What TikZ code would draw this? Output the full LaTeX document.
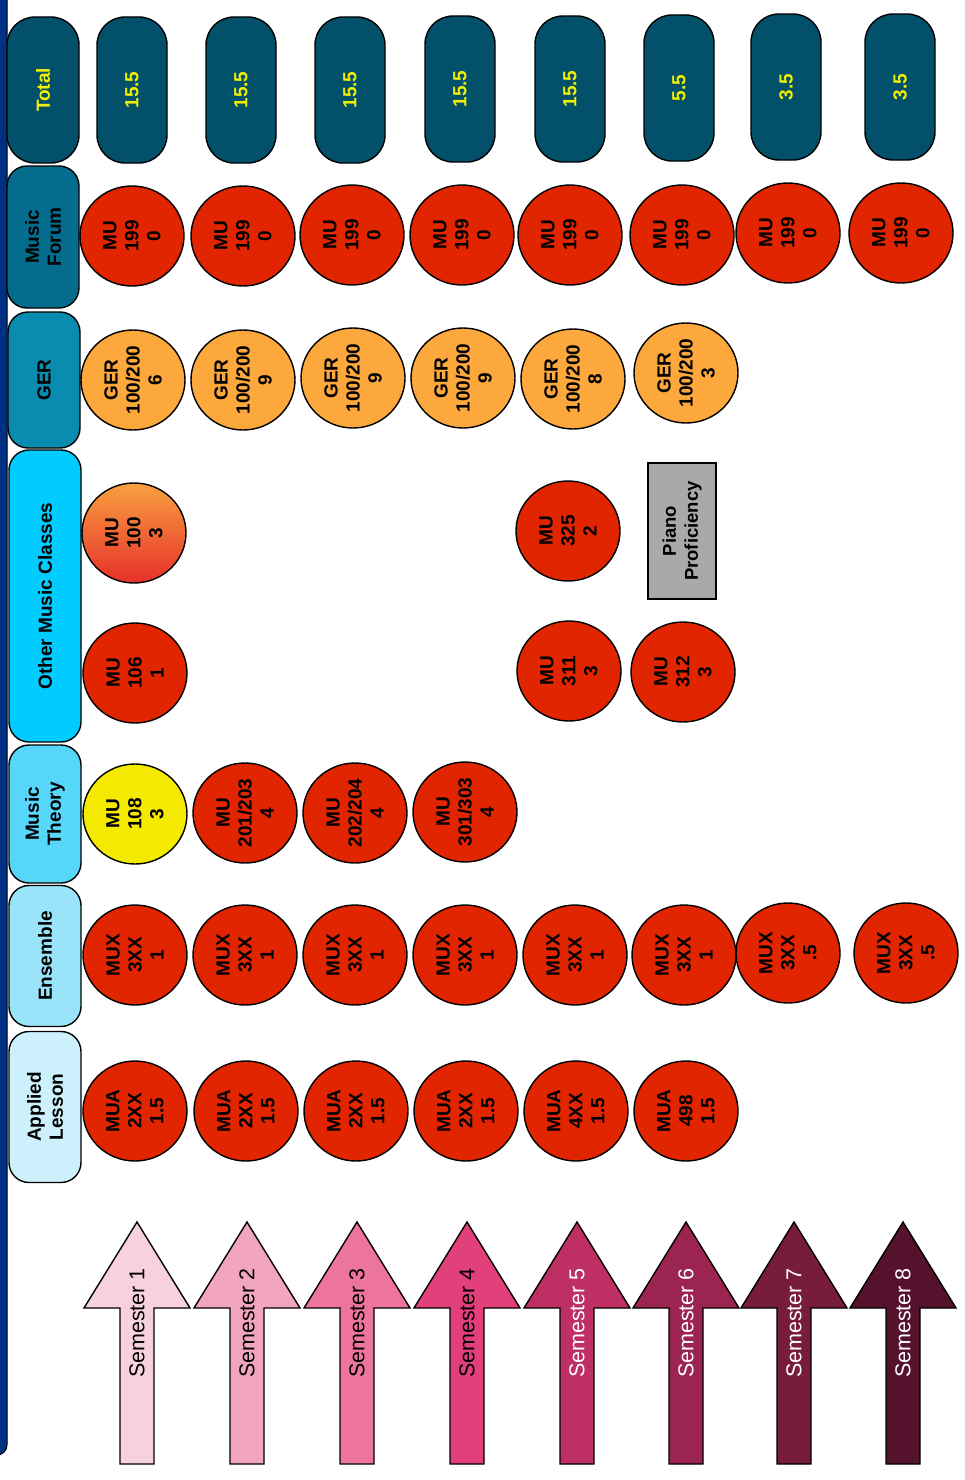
\documentclass[tikz,border=0pt]{standalone}
\usepackage{fontspec}
\setmainfont{Liberation Sans}
\usetikzlibrary{shapes.geometric}
\definecolor{cbar}{HTML}{003082}
\definecolor{ctotal}{HTML}{03506A}
\definecolor{cforum}{HTML}{046D8E}
\definecolor{cgerh}{HTML}{0A8BB0}
\definecolor{cother}{HTML}{00CCFF}
\definecolor{ctheory}{HTML}{56D6F9}
\definecolor{censemble}{HTML}{9AE4FA}
\definecolor{capplied}{HTML}{CCF0FC}
\definecolor{cyel}{HTML}{F2F000}
\definecolor{cred}{HTML}{E12500}
\definecolor{corange}{HTML}{FCA83D}
\definecolor{cyellow}{HTML}{F4EA00}
\definecolor{cgradtop}{HTML}{F9A03F}
\definecolor{cgradbot}{HTML}{E6302A}
\definecolor{cpiano}{HTML}{A9A9A9}
\definecolor{sa}{HTML}{F8D1DF}
\definecolor{sb}{HTML}{F2A5C0}
\definecolor{sc}{HTML}{EE74A0}
\definecolor{sd}{HTML}{E2407A}
\definecolor{se}{HTML}{BE2F63}
\definecolor{sf}{HTML}{9B2450}
\definecolor{sg}{HTML}{781C3E}
\definecolor{sh}{HTML}{55122D}
\begin{document}
\begin{tikzpicture}[x=1pt,y=-1pt,
  course/.style={ellipse, draw=black, line width=1.4pt, rotate=90,
    minimum width=100pt, minimum height=104pt, inner sep=0pt, align=center,
    font=\fontsize{19}{22}\selectfont\bfseries},
  redc/.style={course, fill=cred},
  gerc/.style={course, fill=corange},
  header/.style={draw=black, line width=1.4pt, rounded corners=20pt, rotate=90,
    inner sep=0pt, align=center, minimum height=72pt,
    font=\fontsize{19}{22}\selectfont\bfseries},
  totalbox/.style={draw=black, fill=ctotal, line width=1.4pt, rounded corners=28pt,
    rotate=90, minimum width=146pt, minimum height=70pt, inner sep=0pt,
    text=cyel, font=\fontsize{19}{22}\selectfont\bfseries},
  semarrow/.style={draw=black, line width=1.4pt, line join=miter},
  semtext/.style={rotate=90, inner sep=0pt, font=\fontsize{21.5}{24}\selectfont}
]
\useasboundingbox (0,0) rectangle (965,1480);
% left bar
\draw[fill=cbar, line width=1pt, rounded corners=10pt] (-30,-30) rectangle (7,1455);

% header column
\node[header, fill=ctotal, text=cyel, minimum width=146pt, rounded corners=28pt] (hTotal) at (43,90) {Total};
\node[header, fill=cforum, minimum width=142pt] (hForum) at (43,237) {Music\\Forum};
\node[header, fill=cgerh, minimum width=136pt] (hGer) at (44,380) {GER};
\node[header, fill=cother, minimum width=292pt] (hOther) at (45,596) {Other Music Classes};
\node[header, fill=ctheory, minimum width=138pt] (hTheory) at (45,814) {Music\\Theory};
\node[header, fill=censemble, minimum width=141pt] (hEns) at (45,956) {Ensemble};
\node[header, fill=capplied, minimum width=151pt] (hApp) at (45,1107) {Applied\\Lesson};

% totals
\node[totalbox] (t1) at (132,90) {15.5};
\node[totalbox] (t2) at (241,90) {15.5};
\node[totalbox] (t3) at (350,90) {15.5};
\node[totalbox] (t4) at (460,89) {15.5};
\node[totalbox] (t5) at (570,89) {15.5};
\node[totalbox] (t6) at (679,88) {5.5};
\node[totalbox] (t7) at (786,87) {3.5};
\node[totalbox] (t8) at (900,87) {3.5};

% music forum
\node[redc] (f1) at (132,236) {MU\\199\\0};
\node[redc] (f2) at (243,236) {MU\\199\\0};
\node[redc] (f3) at (352,235) {MU\\199\\0};
\node[redc] (f4) at (462,235) {MU\\199\\0};
\node[redc] (f5) at (570,235) {MU\\199\\0};
\node[redc] (f6) at (682,235) {MU\\199\\0};
\node[redc] (f7) at (788,233) {MU\\199\\0};
\node[redc] (f8) at (901,233) {MU\\199\\0};

% GER
\node[gerc] (g1) at (133,380) {GER\\100/200\\6};
\node[gerc] (g2) at (243,380) {GER\\100/200\\9};
\node[gerc] (g3) at (353,378) {GER\\100/200\\9};
\node[gerc] (g4) at (463,378) {GER\\100/200\\9};
\node[gerc] (g5) at (573,379) {GER\\100/200\\8};
\node[gerc] (g6) at (686,373) {GER\\100/200\\3};

% other music classes
\node[course, top color=cgradtop, bottom color=cgradbot] (o100) at (134,533) {MU\\100\\3};
\node[redc] (o106) at (135,673) {MU\\106\\1};
\node[redc] (o325) at (568,531) {MU\\325\\2};
\node[redc] (o311) at (569,671) {MU\\311\\3};
\node[redc] (o312) at (683,672) {MU\\312\\3};
\node[draw=black, fill=cpiano, line width=1.4pt, rotate=90, minimum width=136pt,
  minimum height=68pt, inner sep=0pt, align=center,
  font=\fontsize{18.5}{22}\selectfont\bfseries] (piano) at (682,531) {Piano\\Proficiency};

% music theory
\node[course, fill=cyellow] (m108) at (135,814) {MU\\108\\3};
\node[redc] (m201) at (245,813) {MU\\201/203\\4};
\node[redc] (m202) at (355,813) {MU\\202/204\\4};
\node[redc] (m301) at (465,812) {MU\\301/303\\4};

% ensemble
\node[redc] (e1) at (135,955) {MUX\\3XX\\1};
\node[redc] (e2) at (245,955) {MUX\\3XX\\1};
\node[redc] (e3) at (355,955) {MUX\\3XX\\1};
\node[redc] (e4) at (465,955) {MUX\\3XX\\1};
\node[redc] (e5) at (575,955) {MUX\\3XX\\1};
\node[redc] (e6) at (684,955) {MUX\\3XX\\1};
\node[redc] (e7) at (788,953) {MUX\\3XX\\.5};
\node[redc] (e8) at (906,953) {MUX\\3XX\\.5};

% applied lesson
\node[redc] (a1) at (135,1111) {MUA\\2XX\\1.5};
\node[redc] (a2) at (246,1111) {MUA\\2XX\\1.5};
\node[redc] (a3) at (356,1111) {MUA\\2XX\\1.5};
\node[redc] (a4) at (466,1111) {MUA\\2XX\\1.5};
\node[redc] (a5) at (576,1111) {MUA\\4XX\\1.5};
\node[redc] (a6) at (686,1111) {MUA\\498\\1.5};

% semester arrows
\foreach \t/\c/\tc/\n in {137/sa/black/1, 247/sb/black/2, 357/sc/black/3, 467/sd/black/4,
  577/se/white/5, 686/sf/white/6, 794/sg/white/7, 903/sh/white/8}{
  \draw[semarrow, fill=\c] (\t,1222) -- ({\t+53},1308) -- ({\t+17},1308) -- ({\t+17},1464)
    -- ({\t-17},1464) -- ({\t-17},1308) -- ({\t-53},1308) -- cycle;
  \node[semtext, text=\tc] (s\n) at (\t,1323) {Semester \n};
}
\end{tikzpicture}
\end{document}
